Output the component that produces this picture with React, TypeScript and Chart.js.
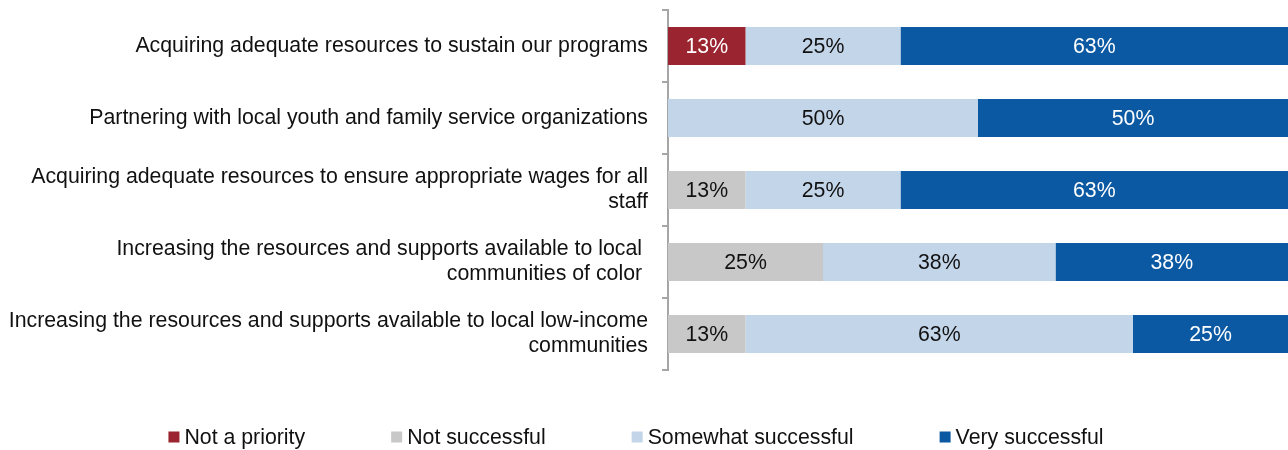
import React, { useEffect, useRef } from "react";
import { Chart, registerables } from "chart.js";

Chart.register(...registerables);

const categories: (string | string[])[] = [
  "Acquiring adequate resources to sustain our programs",
  "Partnering with local youth and family service organizations",
  ["Acquiring adequate resources to ensure appropriate wages for all", "staff"],
  ["Increasing the resources and supports available to local ", "communities of color "],
  ["Increasing the resources and supports available to local low-income", "communities"],
];

const seriesNames = ["Not a priority", "Not successful", "Somewhat successful", "Very successful"];

const notAPriority = [12.5, 0, 0, 0, 0];
const notSuccessful = [0, 0, 12.5, 25, 12.5];
const somewhatSuccessful = [25, 50, 25, 37.5, 62.5];
const verySuccessful = [62.5, 50, 62.5, 37.5, 25];

const seriesColors = ["#9A242F", "#C8C8C8", "#C3D5E9", "#0B59A3"];
const labelColors = ["#FFFFFF", "#111111", "#111111", "#FFFFFF"];

const FONT = "'Liberation Sans', Arial, sans-serif";
const FONT_SIZE = 21.3;

const valueLabelPlugin = {
  id: "valueLabels",
  afterDatasetsDraw(chart: any) {
    const ctx = chart.ctx;
    ctx.save();
    ctx.font = `${FONT_SIZE}px ${FONT}`;
    ctx.textAlign = "center";
    ctx.textBaseline = "middle";
    chart.data.datasets.forEach((ds: any, di: number) => {
      const meta = chart.getDatasetMeta(di);
      meta.data.forEach((el: any, i: number) => {
        const v = ds.data[i];
        if (!v) return;
        const c = el.getCenterPoint();
        ctx.fillStyle = labelColors[di];
        ctx.fillText(Math.round(v) + "%", c.x, c.y + 1);
      });
    });
    ctx.restore();
  },
};

const legendPlugin = {
  id: "customLegend",
  afterDraw(chart: any) {
    const ctx = chart.ctx;
    ctx.save();
    ctx.font = `${FONT_SIZE}px ${FONT}`;
    ctx.textBaseline = "middle";
    ctx.textAlign = "left";
    const box = 11;
    const gapText = 5;
    const gapItem = 86;
    const widths = seriesNames.map((n) => box + gapText + ctx.measureText(n).width);
    const total = widths.reduce((a, b) => a + b, 0) + gapItem * (widths.length - 1);
    let x = chart.width / 2 - 8 - total / 2;
    const y = 437;
    seriesNames.forEach((n, i) => {
      ctx.fillStyle = seriesColors[i];
      ctx.fillRect(x, y - box / 2, box, box);
      ctx.fillStyle = "#111111";
      ctx.fillText(n, x + box + gapText, y + 1);
      x += widths[i] + gapItem;
    });
    ctx.restore();
  },
};

export default function App() {
  const ref = useRef<HTMLCanvasElement | null>(null);
  useEffect(() => {
    if (!ref.current) return;
    const data = [notAPriority, notSuccessful, somewhatSuccessful, verySuccessful];
    const chart = new Chart(ref.current, {
      type: "bar",
      data: {
        labels: categories,
        datasets: seriesNames.map((name, i) => ({
          label: name,
          data: data[i],
          backgroundColor: seriesColors[i],
          borderWidth: 0,
          categoryPercentage: 1,
          barPercentage: 0.53,
        })),
      },
      options: {
        indexAxis: "y",
        animation: false,
        responsive: true,
        maintainAspectRatio: false,
        layout: { padding: { top: 10, bottom: 80, left: 0, right: 0 } },
        plugins: {
          legend: { display: false },
          tooltip: { enabled: false },
        },
        scales: {
          x: {
            stacked: true,
            min: 0,
            max: 100,
            display: false,
          },
          y: {
            stacked: true,
            offset: true,
            afterFit: (s: any) => {
              s.width = 668;
              s.paddingTop = 0;
              s.paddingBottom = 0;
            },
            grid: {
              offset: true,
              drawOnChartArea: false,
              drawTicks: true,
              tickLength: 6,
              color: "#A6A6A6",
              lineWidth: 2,
            },
            border: { display: true, color: "#A6A6A6", width: 2 },
            ticks: {
              color: "#111111",
              padding: 14,
              font: { family: FONT, size: FONT_SIZE, lineHeight: 1.18 },
            },
          },
        },
      },
      plugins: [valueLabelPlugin, legendPlugin],
    });
    return () => chart.destroy();
  }, []);
  return (
    <div style={{ position: "absolute", left: 0, top: 0, width: 1288, height: 450 }}>
      <canvas ref={ref} />
    </div>
  );
}
